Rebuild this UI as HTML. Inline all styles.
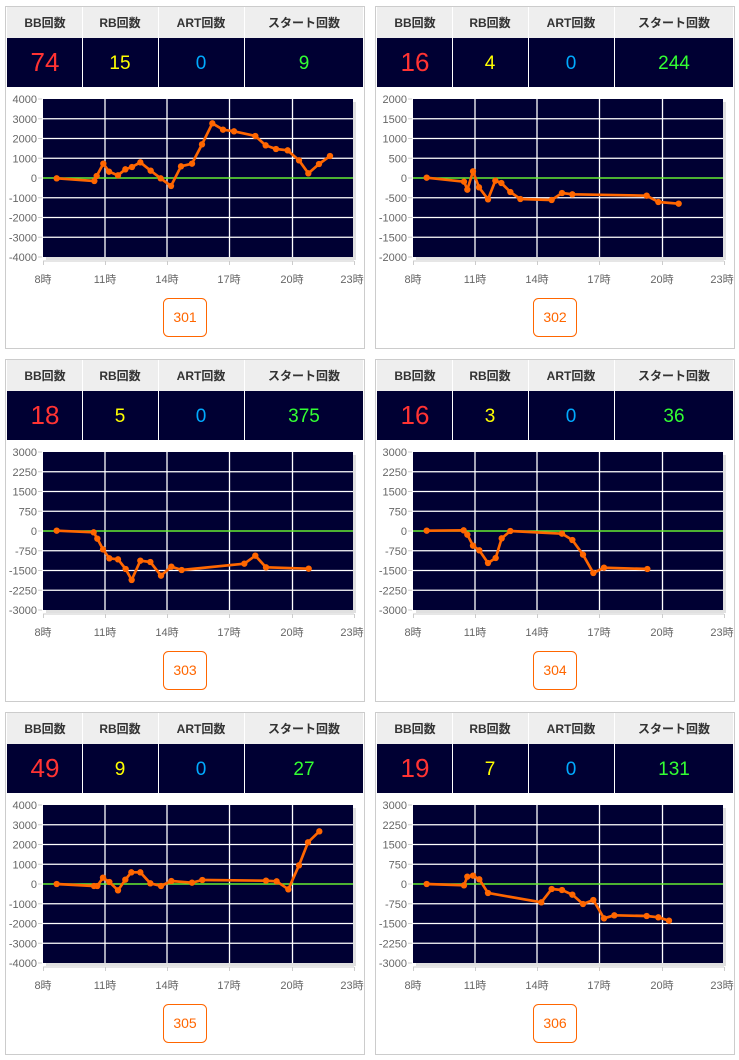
<!DOCTYPE html>
<html><head><meta charset="utf-8"><style>
html,body{margin:0;padding:0;background:#fff;width:739px;height:1060px;overflow:hidden}
text{font-family:"Liberation Sans","Noto Sans CJK JP",sans-serif}
polyline{marker-start:url(#dot);marker-mid:url(#dot);marker-end:url(#dot)}
</style></head><body>
<svg width="739" height="1060" xmlns="http://www.w3.org/2000/svg">
<defs>
<marker id="dot" markerUnits="userSpaceOnUse" markerWidth="24" markerHeight="24" refX="12" refY="12" viewBox="0 0 24 24"><circle cx="12" cy="12" r="9.5" fill="#ff6600"/></marker>
<g id="frame">
<rect x="5.5" y="6.5" width="359" height="342" fill="#fff" stroke="#ccc"/>
<rect x="7" y="7" width="356" height="31" fill="#eeeeee"/>
<rect x="7" y="38" width="356" height="49" fill="#000033"/>
<line x1="82.5" y1="7" x2="82.5" y2="87" stroke="#fff"/>
<line x1="158.5" y1="7" x2="158.5" y2="87" stroke="#fff"/>
<line x1="244.5" y1="7" x2="244.5" y2="87" stroke="#fff"/>
<g font-size="12" font-weight="bold" fill="#333" text-anchor="middle">
<text x="45" y="27">BB回数</text><text x="120" y="27">RB回数</text><text x="201" y="27">ART回数</text><text x="304" y="27">スタート回数</text></g>
<rect x="46" y="102" width="310" height="158" fill="#ccc" opacity="0.6"/>
<rect x="43" y="99" width="310" height="158" fill="#000033"/>
<g stroke="#fff" stroke-width="1.3">
<line x1="43" y1="118.75" x2="353" y2="118.75"/><line x1="43" y1="138.5" x2="353" y2="138.5"/><line x1="43" y1="158.25" x2="353" y2="158.25"/><line x1="43" y1="197.75" x2="353" y2="197.75"/><line x1="43" y1="217.5" x2="353" y2="217.5"/><line x1="43" y1="237.25" x2="353" y2="237.25"/>
<line x1="105" y1="99" x2="105" y2="257"/><line x1="167" y1="99" x2="167" y2="257"/><line x1="229.5" y1="99" x2="229.5" y2="257"/><line x1="292.5" y1="99" x2="292.5" y2="257"/>
</g>
<line x1="43" y1="178" x2="353" y2="178" stroke="#66ee33" stroke-width="1.5"/>
<g stroke="#ccc"><line x1="43" y1="261" x2="354" y2="261"/>
<line x1="43.5" y1="261" x2="43.5" y2="265"/><line x1="105.5" y1="261" x2="105.5" y2="265"/><line x1="167.5" y1="261" x2="167.5" y2="265"/><line x1="229.5" y1="261" x2="229.5" y2="265"/><line x1="292.5" y1="261" x2="292.5" y2="265"/><line x1="354.5" y1="261" x2="354.5" y2="265"/>
<line x1="38" y1="99" x2="42" y2="99"/><line x1="38" y1="118.75" x2="42" y2="118.75"/><line x1="38" y1="138.5" x2="42" y2="138.5"/><line x1="38" y1="158.25" x2="42" y2="158.25"/><line x1="38" y1="178" x2="42" y2="178"/><line x1="38" y1="197.75" x2="42" y2="197.75"/><line x1="38" y1="217.5" x2="42" y2="217.5"/><line x1="38" y1="237.25" x2="42" y2="237.25"/><line x1="38" y1="257" x2="42" y2="257"/></g>
<g font-size="11" fill="#666" text-anchor="middle">
<text x="43" y="283">8時</text><text x="105" y="283">11時</text><text x="167" y="283">14時</text><text x="229" y="283">17時</text><text x="292" y="283">20時</text><text x="352" y="283">23時</text></g>
<rect x="163.5" y="298.5" width="43" height="38" rx="5" fill="#fff" stroke="#ff6600"/>
</g>
</defs>

<g>
<use href="#frame"/>
<g font-size="11" fill="#666" text-anchor="end"><text x="37" y="103">4000</text><text x="37" y="122.75">3000</text><text x="37" y="142.5">2000</text><text x="37" y="162.25">1000</text><text x="37" y="182">0</text><text x="37" y="201.75">-1000</text><text x="37" y="221.5">-2000</text><text x="37" y="241.25">-3000</text><text x="37" y="261">-4000</text></g>
<text x="45" y="71" font-size="26" fill="#ff3333" text-anchor="middle">74</text><text x="120" y="69" font-size="19" fill="#ffff00" text-anchor="middle">15</text><text x="201" y="69" font-size="19" fill="#00aaff" text-anchor="middle">0</text><text x="304" y="69" font-size="19" fill="#33ff33" text-anchor="middle">9</text>
<text x="185" y="322" font-size="14" fill="#ff6600" text-anchor="middle">301</text>
<g transform="scale(0.33333)">
<polyline fill="none" stroke="#ff6600" stroke-width="8" stroke-linejoin="round" points="170,535 283,543 290,528 310,491 327,515 354,526 376,508 396,501 421,487 452,512 482,535 513,558 543,499 576,491 606,433 637,370 669,389 702,394 766,408 797,436 828,447 863,451 897,481 925,520 957,492 990,468"/>
</g></g>

<g transform="translate(370,0)">
<use href="#frame"/>
<g font-size="11" fill="#666" text-anchor="end"><text x="37" y="103">2000</text><text x="37" y="122.75">1500</text><text x="37" y="142.5">1000</text><text x="37" y="162.25">500</text><text x="37" y="182">0</text><text x="37" y="201.75">-500</text><text x="37" y="221.5">-1000</text><text x="37" y="241.25">-1500</text><text x="37" y="261">-2000</text></g>
<text x="45" y="71" font-size="26" fill="#ff3333" text-anchor="middle">16</text><text x="120" y="69" font-size="19" fill="#ffff00" text-anchor="middle">4</text><text x="201" y="69" font-size="19" fill="#00aaff" text-anchor="middle">0</text><text x="304" y="69" font-size="19" fill="#33ff33" text-anchor="middle">244</text>
<text x="185" y="322" font-size="14" fill="#ff6600" text-anchor="middle">302</text>
<g transform="translate(40,95) scale(0.33333)"><polyline fill="none" stroke="#ff6600" stroke-width="8" stroke-linejoin="round" points="50,248 162,260 172,284 189,229 207,277 234,313 256,257 274,264 301,291 331,312 425,315 456,294 487,298 710,302 745,321 806,326"/></g>
</g>

<g transform="translate(0,353)">
<use href="#frame"/>
<g font-size="11" fill="#666" text-anchor="end"><text x="37" y="103">3000</text><text x="37" y="122.75">2250</text><text x="37" y="142.5">1500</text><text x="37" y="162.25">750</text><text x="37" y="182">0</text><text x="37" y="201.75">-750</text><text x="37" y="221.5">-1500</text><text x="37" y="241.25">-2250</text><text x="37" y="261">-3000</text></g>
<text x="45" y="71" font-size="26" fill="#ff3333" text-anchor="middle">18</text><text x="120" y="69" font-size="19" fill="#ffff00" text-anchor="middle">5</text><text x="201" y="69" font-size="19" fill="#00aaff" text-anchor="middle">0</text><text x="304" y="69" font-size="19" fill="#33ff33" text-anchor="middle">375</text>
<text x="185" y="322" font-size="14" fill="#ff6600" text-anchor="middle">303</text>
<g transform="translate(40,95) scale(0.33333)"><polyline fill="none" stroke="#ff6600" stroke-width="8" stroke-linejoin="round" points="50,248 161,253 172,272 189,304 208,331 234,334 257,363 275,396 301,338 331,342 363,383 394,356 425,366 613,347 646,323 678,358 806,362"/></g>
</g>

<g transform="translate(370,353)">
<use href="#frame"/>
<g font-size="11" fill="#666" text-anchor="end"><text x="37" y="103">3000</text><text x="37" y="122.75">2250</text><text x="37" y="142.5">1500</text><text x="37" y="162.25">750</text><text x="37" y="182">0</text><text x="37" y="201.75">-750</text><text x="37" y="221.5">-1500</text><text x="37" y="241.25">-2250</text><text x="37" y="261">-3000</text></g>
<text x="45" y="71" font-size="26" fill="#ff3333" text-anchor="middle">16</text><text x="120" y="69" font-size="19" fill="#ffff00" text-anchor="middle">3</text><text x="201" y="69" font-size="19" fill="#00aaff" text-anchor="middle">0</text><text x="304" y="69" font-size="19" fill="#33ff33" text-anchor="middle">36</text>
<text x="185" y="322" font-size="14" fill="#ff6600" text-anchor="middle">304</text>
<g transform="translate(40,95) scale(0.33333)"><polyline fill="none" stroke="#ff6600" stroke-width="8" stroke-linejoin="round" points="50,248 161,247 172,260 189,293 208,307 234,345 257,330 275,271 301,249 456,257 487,276 519,320 550,375 582,359 712,363"/></g>
</g>

<g transform="translate(0,706)">
<use href="#frame"/>
<g font-size="11" fill="#666" text-anchor="end"><text x="37" y="103">4000</text><text x="37" y="122.75">3000</text><text x="37" y="142.5">2000</text><text x="37" y="162.25">1000</text><text x="37" y="182">0</text><text x="37" y="201.75">-1000</text><text x="37" y="221.5">-2000</text><text x="37" y="241.25">-3000</text><text x="37" y="261">-4000</text></g>
<text x="45" y="71" font-size="26" fill="#ff3333" text-anchor="middle">49</text><text x="120" y="69" font-size="19" fill="#ffff00" text-anchor="middle">9</text><text x="201" y="69" font-size="19" fill="#00aaff" text-anchor="middle">0</text><text x="304" y="69" font-size="19" fill="#33ff33" text-anchor="middle">27</text>
<text x="185" y="322" font-size="14" fill="#ff6600" text-anchor="middle">305</text>
<g transform="translate(40,94) scale(0.33333)"><polyline fill="none" stroke="#ff6600" stroke-width="8" stroke-linejoin="round" points="50,252 162,258 172,258 189,233 208,246 234,271 256,239 274,217 301,217 331,250 363,258 394,243 456,248 487,240 678,242 710,244 745,268 777,196 804,127 838,94"/></g>
</g>

<g transform="translate(370,706)">
<use href="#frame"/>
<g font-size="11" fill="#666" text-anchor="end"><text x="37" y="103">3000</text><text x="37" y="122.75">2250</text><text x="37" y="142.5">1500</text><text x="37" y="162.25">750</text><text x="37" y="182">0</text><text x="37" y="201.75">-750</text><text x="37" y="221.5">-1500</text><text x="37" y="241.25">-2250</text><text x="37" y="261">-3000</text></g>
<text x="45" y="71" font-size="26" fill="#ff3333" text-anchor="middle">19</text><text x="120" y="69" font-size="19" fill="#ffff00" text-anchor="middle">7</text><text x="201" y="69" font-size="19" fill="#00aaff" text-anchor="middle">0</text><text x="304" y="69" font-size="19" fill="#33ff33" text-anchor="middle">131</text>
<text x="185" y="322" font-size="14" fill="#ff6600" text-anchor="middle">306</text>
<g transform="translate(40,94) scale(0.33333)"><polyline fill="none" stroke="#ff6600" stroke-width="8" stroke-linejoin="round" points="50,252 162,256 172,230 189,227 208,238 234,279 394,307 425,267 456,270 487,284 519,312 550,300 582,355 613,346 710,348 745,352 777,362"/></g>
</g>
</svg>
</body></html>
